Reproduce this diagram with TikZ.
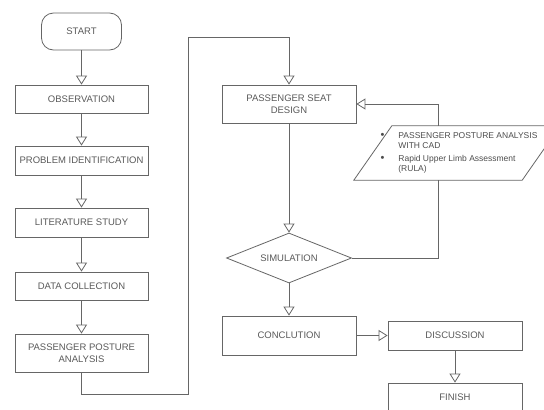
\documentclass[tikz,border=0pt]{standalone}
\usepackage{fontspec}
\setmainfont{Liberation Sans}
\usetikzlibrary{arrows.meta,shapes.geometric}
\newcommand{\bigdot}{{\fontsize{11}{10}\selectfont\textbullet}}
\begin{document}
\begin{tikzpicture}[x=1pt,y=-1pt,
  box/.style={draw=black!60,line width=0.8pt,minimum width=133pt,minimum height=29pt,inner sep=1pt,align=center,text=black!65,font=\fontsize{9.5}{11.5}\selectfont},
  flow/.style={draw=black!60,line width=0.8pt,-{Triangle[open,length=9pt,width=11pt]}},
  link/.style={draw=black!60,line width=0.8pt}]
\useasboundingbox (0,0) rectangle (544,410);

\node[box,rounded corners=12pt,minimum width=80pt,minimum height=37pt] (start) at (81.5,31.5) {START};
\node[box,minimum height=28pt] (obs) at (81.5,99) {OBSERVATION};
\node[box] (prob) at (81.5,160.5) {PROBLEM IDENTIFICATION};
\node[box] (lit) at (81.5,222.5) {LITERATURE STUDY};
\node[box,minimum height=28pt] (data) at (81.5,286) {DATA COLLECTION};
\node[box,minimum height=38pt] (ppa) at (81.5,353) {PASSENGER POSTURE\\ANALYSIS};

\node[box,minimum width=134pt,minimum height=38pt] (seat) at (289,104) {PASSENGER SEAT\\DESIGN};
\node[box,diamond,aspect=2.5,minimum width=125pt,minimum height=50pt] (sim) at (289,258) {SIMULATION};
\node[box,minimum width=134pt,minimum height=39pt] (concl) at (289,335.5) {CONCLUTION};
\node[box,minimum width=134pt] (disc) at (455,335.5) {DISCUSSION};
\node[box,minimum width=134pt] (finish) at (455,397.5) {FINISH};

\node[text=black!70,font=\fontsize{8.5}{10}\selectfont,minimum width=168pt,minimum height=54pt,inner sep=0pt] (tools) at (459,153)
  {\begin{tabular}{@{}l@{\hspace{14pt}}l@{}}
  \bigdot & PASSENGER POSTURE ANALYSIS\\
  & WITH CAD\\[3pt]
  \bigdot & Rapid Upper Limb Assessment\\
  & (RULA)
  \end{tabular}};
\draw[link] ([xshift=-21pt]tools.south west) -- ([xshift=-21pt]tools.south east) -- ([xshift=17pt]tools.north east) -- ([xshift=17pt]tools.north west) -- cycle;

\coordinate (c1) at (188,394);
\coordinate (c2) at (188,37);

\draw[flow] (start) -- (obs);
\draw[flow] (obs) -- (prob);
\draw[flow] (prob) -- (lit);
\draw[flow] (lit) -- (data);
\draw[flow] (data) -- (ppa);
\draw[flow] (ppa.south) |- (c1) -- (c2) -| (seat.north);

\draw[flow] (seat) -- (sim);
\draw[link] (sim.east) -| ([xshift=-21pt]tools.south);
\draw[flow] ([xshift=-21pt]tools.north) |- (seat.east);
\draw[flow] (sim) -- (concl);
\draw[flow] (concl) -- (disc);
\draw[flow] (disc) -- (finish);
\end{tikzpicture}
\end{document}
